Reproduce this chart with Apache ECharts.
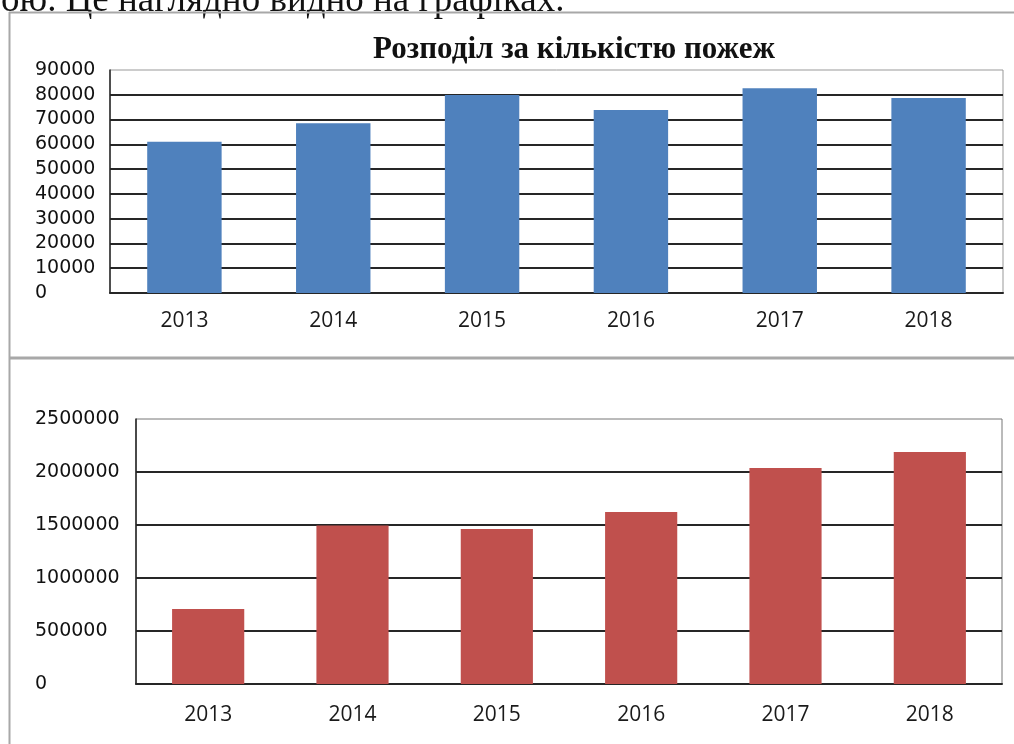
<!DOCTYPE html>
<html>
<head>
<meta charset="utf-8">
<script src="https://cdn.jsdelivr.net/npm/echarts@6/dist/echarts.min.js"></script>
<style>
  html, body { margin: 0; padding: 0; background: #fff; }
  #chart { width: 1014px; height: 744px; }
</style>
</head>
<body>
<div id="chart"></div>
<script>
// роки
var years = ['2013', '2014', '2015', '2016', '2017', '2018'];
// кількість пожеж
var firesCount = [61000, 68500, 79900, 73900, 82600, 78700];
// друга діаграма
var secondValues = [707000, 1495000, 1462000, 1623000, 2038000, 2189000];

var chart = echarts.init(document.getElementById('chart'));

var labelFont = 'DejaVu Sans';
var gridLine = { color: '#262626', width: 2 };
var plainNum = function (v) { return String(v); };

var option = {
  animation: false,
  title: {
    text: 'Розподіл за кількістю пожеж',
    left: 569,
    top: 29,
    textAlign: 'center',
    textStyle: {
      fontFamily: 'Liberation Serif',
      fontWeight: 'bold',
      fontSize: 31,
      color: '#111'
    }
  },
  graphic: [
    {
      type: 'text',
      left: 1,
      top: -17,
      style: {
        text: 'ою. Це наглядно видно на графіках.',
        font: '37px "Liberation Serif"',
        fill: '#111'
      }
    },
    { type: 'line', shape: { x1: 9.5, y1: 12, x2: 9.5, y2: 744 }, style: { stroke: '#a8a8a8', lineWidth: 2 } },
    { type: 'line', shape: { x1: 9, y1: 12.5, x2: 1014, y2: 12.5 }, style: { stroke: '#a8a8a8', lineWidth: 2 } },
    { type: 'line', shape: { x1: 9, y1: 358, x2: 1014, y2: 358 }, style: { stroke: '#a8a8a8', lineWidth: 3 } }
  ],
  grid: [
    { left: 110, top: 70, right: 11, height: 223, show: true, borderColor: '#999', borderWidth: 1, backgroundColor: 'transparent' },
    { left: 136, top: 419, right: 12, height: 265, show: true, borderColor: '#777', borderWidth: 1, backgroundColor: 'transparent' }
  ],
  xAxis: [
    {
      gridIndex: 0,
      type: 'category',
      data: years,
      axisLine: { lineStyle: { color: '#262626', width: 2 } },
      axisTick: { show: false },
      axisLabel: { margin: 18, fontFamily: 'Open Sans', fontSize: 21, color: '#1a1a1a' }
    },
    {
      gridIndex: 1,
      type: 'category',
      data: years,
      axisLine: { lineStyle: { color: '#262626', width: 2 } },
      axisTick: { show: false },
      axisLabel: { margin: 21, fontFamily: 'Open Sans', fontSize: 21, color: '#1a1a1a' }
    }
  ],
  yAxis: [
    {
      gridIndex: 0,
      type: 'value',
      min: 0,
      max: 90000,
      interval: 10000,
      axisLine: { show: true, lineStyle: { color: '#262626', width: 1.5 } },
      axisTick: { show: false },
      splitLine: { show: true, showMaxLine: false, lineStyle: gridLine },
      axisLabel: { align: 'left', margin: 75, formatter: plainNum, fontFamily: labelFont, fontSize: 19, color: '#111' }
    },
    {
      gridIndex: 1,
      type: 'value',
      min: 0,
      max: 2500000,
      interval: 500000,
      axisLine: { show: true, lineStyle: { color: '#262626', width: 1.5 } },
      axisTick: { show: false },
      splitLine: { show: true, showMaxLine: false, lineStyle: gridLine },
      axisLabel: { align: 'left', margin: 101, formatter: plainNum, fontFamily: labelFont, fontSize: 19, color: '#111' }
    }
  ],
  series: [
    {
      type: 'bar',
      xAxisIndex: 0,
      yAxisIndex: 0,
      data: firesCount,
      barWidth: '50%',
      itemStyle: { color: '#4f81bd' }
    },
    {
      type: 'bar',
      xAxisIndex: 1,
      yAxisIndex: 1,
      data: secondValues,
      barWidth: '50%',
      itemStyle: { color: '#c0504d' }
    }
  ]
};

chart.setOption(option);
</script>
</body>
</html>
